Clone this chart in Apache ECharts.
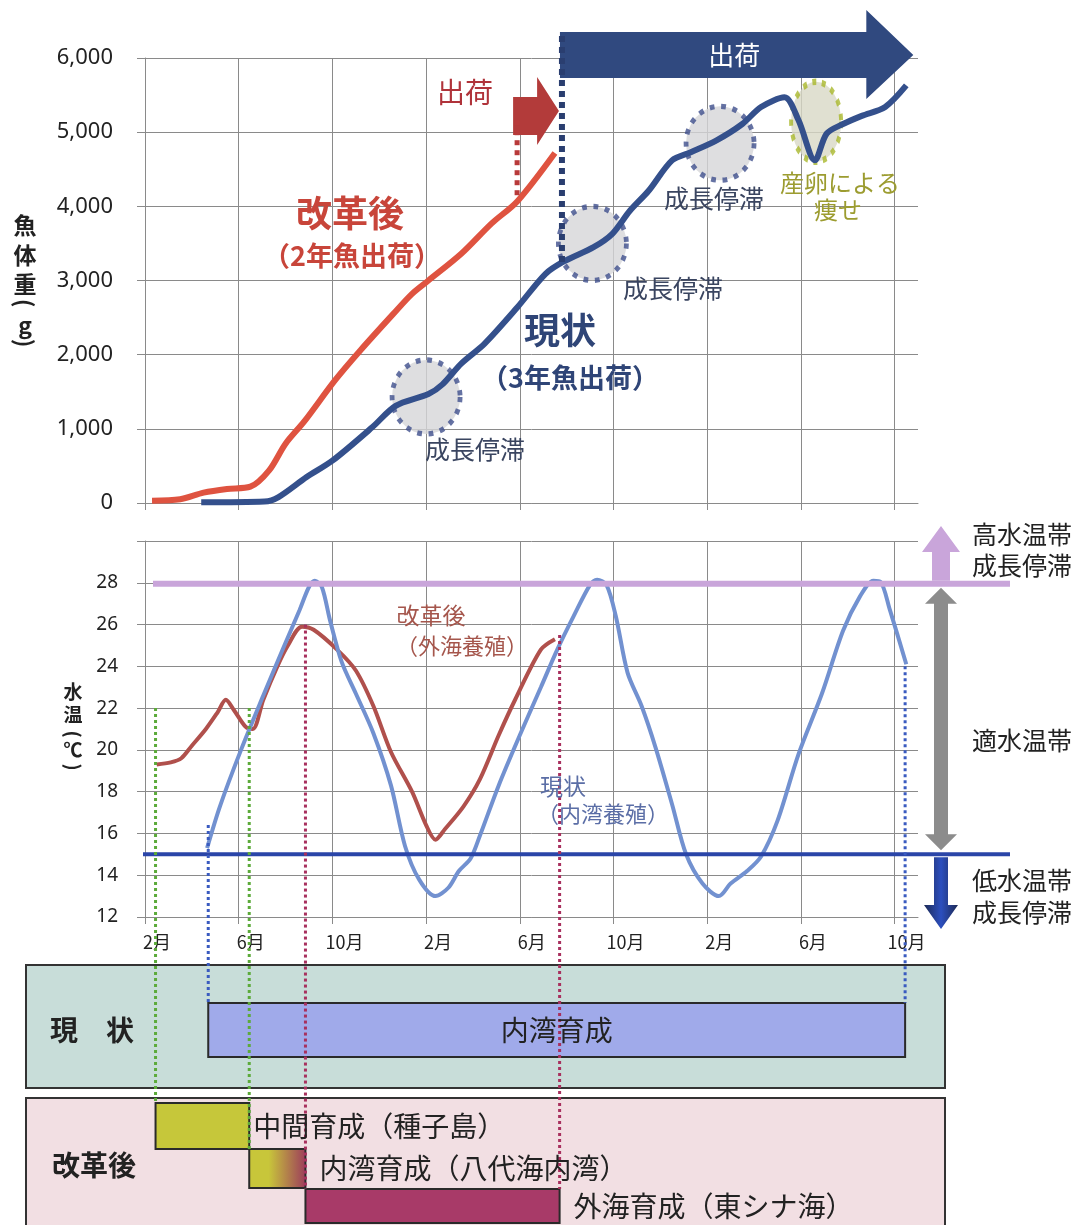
<!DOCTYPE html>
<html>
<head>
<meta charset="utf-8">
<script src="https://cdn.jsdelivr.net/npm/echarts@6/dist/echarts.min.js"></script>
<style>
  html, body { margin: 0; padding: 0; background: #fff; }
  #chart { width: 1086px; height: 1225px; }
</style>
</head>
<body>
<div id="chart"></div>
<script>
// x = months counted from February of year 1
const xTickMonths = [0, 4, 8, 12, 16, 20, 24, 28, 32];
const xTickLabels = ['2月', '6月', '10月', '2月', '6月', '10月', '2月', '6月', '10月'];

// fish weight (g)
const revisedWeightMonth = [0.3, 1.5, 2.5, 3.5, 4.5, 5.3, 6.0, 6.8, 8.1, 9.2, 10.6, 11.4, 12.1, 13.5, 14.8, 15.9, 17.5];
const revisedWeight = [30, 50, 140, 190, 220, 440, 800, 1100, 1650, 2060, 2550, 2820, 3000, 3360, 3770, 4070, 4720];
const currentWeightMonth = [2.4, 5.1, 5.7, 6.9, 8.0, 9.7, 10.7, 12.1, 12.7, 13.5, 14.5, 15.9, 17.1, 17.9, 19.15, 19.95, 20.7, 21.5, 22.5, 23.3, 24.4, 25.5, 26.3, 27.3, 27.9, 28.6, 29.1, 29.8, 30.6, 31.6, 32.5];
const currentWeight = [10, 20, 80, 350, 570, 1020, 1310, 1470, 1600, 1880, 2150, 2640, 3090, 3260, 3450, 3630, 3940, 4210, 4620, 4730, 4890, 5110, 5340, 5470, 5160, 4620, 4980, 5110, 5220, 5340, 5630];

// growth stall circles / spawning ellipse
const stallMonth = [12.0, 19.1, 24.55];
const stallWeight = [1430, 3500, 4850];
const spawnMonth = [28.65];
const spawnWeight = [5140];

// water temperature (°C)
const revisedTempMonth = [0.5, 1.1, 1.55, 2.0, 2.6, 3.1, 3.45, 3.8, 4.3, 4.6, 5.05, 5.65, 6.1, 6.7, 7.2, 8.2, 9.0, 9.75, 10.5, 11.4, 12.0, 12.4, 12.8, 13.6, 14.3, 15.1, 15.8, 16.9, 17.5];
const revisedTemp = [19.3, 19.4, 19.6, 20.2, 21.0, 21.8, 22.4, 21.9, 21.1, 21.0, 22.4, 24.0, 25.0, 25.9, 25.75, 24.8, 23.8, 22.1, 19.9, 18.0, 16.4, 15.7, 16.2, 17.3, 18.6, 20.7, 22.4, 24.8, 25.3];
const currentTempMonth = [2.65, 3.2, 4.1, 5.05, 5.95, 6.6, 7.0, 7.25, 7.55, 7.9, 8.4, 9.0, 9.75, 10.5, 11.1, 11.7, 12.4, 12.95, 13.4, 13.9, 14.3, 15.1, 16.0, 16.9, 17.6, 18.3, 19.0, 19.3, 19.7, 20.1, 20.6, 21.2, 21.8, 22.5, 23.1, 23.8, 24.5, 25.0, 25.7, 26.3, 27.0, 27.9, 28.9, 29.8, 30.5, 31.1, 31.4, 31.8, 32.5];
const currentTemp = [15.3, 17.3, 20.0, 22.6, 25.0, 26.7, 27.8, 28.1, 27.8, 26.2, 24.2, 22.7, 20.8, 18.3, 15.4, 13.8, 13.0, 13.4, 14.2, 14.8, 15.9, 18.3, 20.7, 23.0, 24.8, 26.4, 27.9, 28.15, 27.9, 26.4, 23.7, 22.1, 20.1, 17.4, 15.0, 13.6, 13.0, 13.6, 14.2, 14.9, 16.6, 19.8, 22.7, 25.7, 27.3, 28.1, 28.05, 26.7, 24.1];
const highTempLimit = 28;
const lowTempLimit = 15;

// rearing stages (month ranges)
const stageNames = ['内湾育成', '中間育成（種子島）', '内湾育成（八代海内湾）', '外海育成（東シナ海）'];
const stageStart = [2.7, 0.45, 4.45, 6.85];
const stageEnd = [32.45, 4.45, 6.85, 17.7];
const shipMonthRevised = 15.8;
const shipMonthCurrent = 17.8;

const FONT = '"Noto Sans CJK JP", "Noto Sans", sans-serif';
const NUM_FONT = '"Noto Sans", sans-serif';
const GRID_COLOR = '#8a8a8a';

const zip = (xs, ys) => xs.map((x, i) => [x, ys[i]]);

const chart = echarts.init(document.getElementById('chart'));

function xAxisFor(i) {
  return {
    type: 'value', gridIndex: i, min: 0, max: 33,
    axisLine: { show: true, lineStyle: { color: GRID_COLOR } },
    axisTick: { show: true, length: 7, customValues: xTickMonths, lineStyle: { color: GRID_COLOR } },
    axisLabel: i === 0 ? { show: false } : {
      customValues: xTickMonths,
      formatter: v => xTickLabels[xTickMonths.indexOf(v)] || '',
      fontSize: 18, color: '#222', fontFamily: FONT, margin: 16,
      padding: [0, 0, 0, 24]
    },
    splitLine: { show: true, lineStyle: { color: GRID_COLOR } }
  };
}

chart.setOption({
  animation: false,
  grid: [
    { left: 145, right: 168, top: 58, bottom: 722 },
    { left: 145, right: 168, top: 541, bottom: 308 }
  ],
  xAxis: [xAxisFor(0), xAxisFor(1)],
  yAxis: [
    {
      type: 'value', gridIndex: 0, min: 0, max: 6000, interval: 1000,
      axisLine: { show: true, lineStyle: { color: GRID_COLOR } },
      axisTick: { show: true, length: 8, lineStyle: { color: GRID_COLOR } },
      axisLabel: { formatter: v => v.toLocaleString('en-US'), fontSize: 22, color: '#222', fontFamily: NUM_FONT, margin: 32 },
      splitLine: { lineStyle: { color: GRID_COLOR } }
    },
    {
      type: 'value', gridIndex: 1, min: 12, max: 30, interval: 2,
      axisLine: { show: true, lineStyle: { color: GRID_COLOR } },
      axisTick: { show: true, length: 8, lineStyle: { color: GRID_COLOR } },
      axisLabel: { formatter: v => (v === 30 ? '' : v), fontSize: 19, color: '#222', fontFamily: NUM_FONT, margin: 27 },
      splitLine: { lineStyle: { color: GRID_COLOR } }
    }
  ],
  series: [
    {
      type: 'scatter', xAxisIndex: 0, yAxisIndex: 0, z: 1, silent: true,
      data: zip(stallMonth, stallWeight), symbol: 'circle', symbolSize: [68, 74],
      itemStyle: { color: '#d6d6d8', borderColor: '#3e4f8c', borderWidth: 5, borderType: [5, 7] }
    },
    {
      type: 'scatter', xAxisIndex: 0, yAxisIndex: 0, z: 1, silent: true,
      data: zip(spawnMonth, spawnWeight), symbol: 'circle', symbolSize: [50, 80],
      itemStyle: { color: '#d8d8c6', borderColor: '#a9b82c', borderWidth: 5, borderType: [5, 7] }
    },
    {
      name: '改革後', type: 'line', xAxisIndex: 0, yAxisIndex: 0, z: 3,
      data: zip(revisedWeightMonth, revisedWeight), smooth: 0.3, symbol: 'none',
      lineStyle: { color: '#df5340', width: 6 }
    },
    {
      name: '現状', type: 'line', xAxisIndex: 0, yAxisIndex: 0, z: 3,
      data: zip(currentWeightMonth, currentWeight), smooth: 0.3, symbol: 'none',
      lineStyle: { color: '#34508c', width: 6 }
    },
    {
      name: '改革後（外海養殖）', type: 'line', xAxisIndex: 1, yAxisIndex: 1, z: 3,
      data: zip(revisedTempMonth, revisedTemp), smooth: 0.3, symbol: 'none',
      lineStyle: { color: '#b0504c', width: 4 }
    },
    {
      name: '現状（内湾養殖）', type: 'line', xAxisIndex: 1, yAxisIndex: 1, z: 3,
      data: zip(currentTempMonth, currentTemp), smooth: 0.3, symbol: 'none',
      lineStyle: { color: '#7291d0', width: 4 }
    }
  ]
});

// ---- annotations, placed with the chart's own scales ----
const px = (g, x, y) => chart.convertToPixel({ gridIndex: g }, [x, y]);
const xOf = m => px(1, m, 20)[0];

function text(x, y, s, size, color, extra) {
  return {
    type: 'text', x: x, y: y, z: 30,
    style: Object.assign({ text: s, fontSize: size, fill: color, fontFamily: FONT, align: 'center', verticalAlign: 'middle' }, extra || {})
  };
}
function vline(x, y1, y2, color, w, dash) {
  return { type: 'line', z: 20, shape: { x1: x, y1: y1, x2: x, y2: y2 }, style: { stroke: color, lineWidth: w, lineDash: dash } };
}
function poly(points, fill, z) {
  return { type: 'polygon', z: z || 15, shape: { points: points }, style: { fill: fill } };
}

const g = [];

// background panels for the rearing stages
g.push({ type: 'rect', z: 2, shape: { x: 26, y: 965, width: 919, height: 123 }, style: { fill: '#c8ddd9', stroke: '#333', lineWidth: 2 } });
g.push({ type: 'rect', z: 2, shape: { x: 26, y: 1098, width: 919, height: 140 }, style: { fill: '#f2dfe3', stroke: '#333', lineWidth: 2 } });
g.push(text(92, 1030, '現　状', 28, '#222', { fontWeight: 'bold' }));
g.push(text(94, 1165, '改革後', 28, '#222', { fontWeight: 'bold' }));

// stage bars
const barY = [[1003, 1057], [1103, 1149], [1149, 1188], [1189, 1223]];
const bayGrad = new echarts.graphic.LinearGradient(0, 0, 1, 0, [
  { offset: 0, color: '#c8c63a' }, { offset: 0.35, color: '#c8c63a' }, { offset: 1, color: '#9c3a5c' }
]);
const barFill = ['#a0aaea', '#c6c73a', bayGrad, '#a83a68'];
stageNames.forEach((name, i) => {
  const x1 = xOf(stageStart[i]);
  const x2 = xOf(stageEnd[i]);
  g.push({ type: 'rect', z: 5, shape: { x: x1, y: barY[i][0], width: x2 - x1, height: barY[i][1] - barY[i][0] },
    style: { fill: barFill[i], stroke: '#2a2a2a', lineWidth: 2 } });
  const cy = (barY[i][0] + barY[i][1]) / 2;
  if (i === 0) g.push(text((x1 + x2) / 2, cy, name, 28, '#222'));
  else g.push(text(x2 + (i === 1 ? 4 : 14), cy, name, 28, '#222', { align: 'left' }));
});

// threshold lines (extend past plot into the legend column)
const yHigh = px(1, 0, highTempLimit)[1];
const yLow = px(1, 0, lowTempLimit)[1];
g.push({ type: 'line', z: 12, shape: { x1: 153, y1: yHigh + 1, x2: 1010, y2: yHigh + 1 }, style: { stroke: '#c9a5da', lineWidth: 6 } });
g.push({ type: 'line', z: 12, shape: { x1: 143, y1: yLow, x2: 1010, y2: yLow }, style: { stroke: '#2a45a8', lineWidth: 4 } });

// dotted stage boundaries running from the temperature chart into the stage bars
const green = '#5caa3a', blue = '#3a5bc0', magenta = '#a8305e';
g.push(vline(xOf(stageStart[1]), px(1, 0, 22)[1], barY[1][0], green, 3, [3, 3]));
g.push(vline(xOf(stageEnd[1]), px(1, 0, 22)[1], barY[2][0], green, 3, [3, 3]));
g.push(vline(xOf(stageStart[0]), px(1, 0, 16.4)[1], barY[0][0], blue, 3, [3, 3]));
g.push(vline(xOf(stageEnd[0]), px(1, 0, 24)[1], barY[0][0], blue, 3, [3, 3]));
g.push(vline(xOf(stageStart[3]), px(1, 0, 26)[1], barY[3][0], magenta, 3, [3, 3]));
g.push(vline(xOf(stageEnd[3]), px(1, 0, 25.5)[1], barY[3][0], magenta, 3, [3, 3]));

// shipping markers on the weight chart
const xr = px(0, shipMonthRevised, 0)[0];
const xc = px(0, shipMonthCurrent, 0)[0];
g.push(vline(xr + 2, px(0, 0, 4150)[1], px(0, 0, 5200)[1], '#b83a3a', 5, [5, 5]));
g.push(vline(xc, px(0, 0, 3250)[1], 34, '#2a3e70', 6, [6, 5]));
const xArrowEnd = px(0, 32.8, 0)[0];
g.push(poly([[xc - 2, 32], [xArrowEnd - 47, 32], [xArrowEnd - 47, 10], [xArrowEnd, 55], [xArrowEnd - 47, 99], [xArrowEnd - 47, 78], [xc - 2, 78]], '#30497f', 14));
g.push(text((xc + xArrowEnd - 47) / 2 + 20, 55, '出荷', 26, '#fff'));
g.push(poly([[xr - 2, 97], [xr + 22, 97], [xr + 22, 77], [xc - 3, 111], [xr + 22, 145], [xr + 22, 135], [xr - 2, 135]], '#b33b3a', 16));
g.push(text(465, 92, '出荷', 28, '#b0333a'));

// weight chart labels
g.push(text(350, 213, '改革後', 36, '#c8453a', { fontWeight: 'bold' }));
g.push(text(352, 256, '（2年魚出荷）', 27, '#c8453a', { fontWeight: 'bold' }));
g.push(text(560, 330, '現状', 36, '#2f4577', { fontWeight: 'bold' }));
g.push(text(570, 378, '（3年魚出荷）', 27, '#2f4577', { fontWeight: 'bold' }));
g.push(text(475, 449, '成長停滞', 25, '#3a4560'));
g.push(text(673, 288, '成長停滞', 25, '#3a4560'));
g.push(text(714, 198, '成長停滞', 25, '#3a4560'));
g.push(text(840, 183, '産卵による', 24, '#9c9c30'));
g.push(text(838, 210, '痩せ', 24, '#9c9c30'));

// temperature chart labels
g.push(text(431, 615, '改革後', 23, '#a5564c'));
g.push(text(462, 646, '（外海養殖）', 22, '#a5564c'));
g.push(text(563, 786, '現状', 23, '#5b6ea6'));
g.push(text(603, 814, '（内湾養殖）', 22, '#5b6ea6'));

// vertical axis titles, one glyph per row; brackets turned to lie horizontally
function vtitle(x, rows, size) {
  rows.forEach(([c, y]) => {
    const t = text(x, y, c, size, '#222', { fontWeight: 'bold' });
    if (c === '(' || c === ')') t.rotation = -Math.PI / 2;
    g.push(t);
  });
}
vtitle(25, [['魚', 225], ['体', 255], ['重', 284], ['(', 303], ['g', 325], [')', 343]], 23);
vtitle(73, [['水', 692], ['温', 715], ['(', 734], ['℃', 750], [')', 767]], 19);

// temperature band arrows on the right
const ax = 941;
g.push(poly([[ax, 526], [ax + 19, 552], [ax + 9, 552], [ax + 9, yHigh - 2], [ax - 9, yHigh - 2], [ax - 9, 552], [ax - 19, 552]], '#c9a5da', 13));
g.push(poly([[ax, yHigh + 5], [ax + 16, yHigh + 21], [ax + 7, yHigh + 21], [ax + 7, yLow - 20], [ax + 16, yLow - 20], [ax, yLow - 4],
  [ax - 16, yLow - 20], [ax - 7, yLow - 20], [ax - 7, yHigh + 21], [ax - 16, yHigh + 21]], '#8c8c8c', 13));
const downGrad = new echarts.graphic.LinearGradient(0, 0, 1, 0, [
  { offset: 0, color: '#1d2a55' }, { offset: 0.5, color: '#2c4fbf' }, { offset: 1, color: '#1d2a55' }
]);
g.push(poly([[ax - 7, yLow + 3], [ax + 7, yLow + 3], [ax + 7, 905], [ax + 17, 905], [ax, 929], [ax - 17, 905], [ax - 7, 905]], downGrad, 13));
g.push(text(1022, 534, '高水温帯', 25, '#222'));
g.push(text(1022, 565, '成長停滞', 25, '#222'));
g.push(text(1022, 740, '適水温帯', 25, '#222'));
g.push(text(1022, 880, '低水温帯', 25, '#222'));
g.push(text(1022, 912, '成長停滞', 25, '#222'));

chart.setOption({ graphic: g });
</script>
</body>
</html>
